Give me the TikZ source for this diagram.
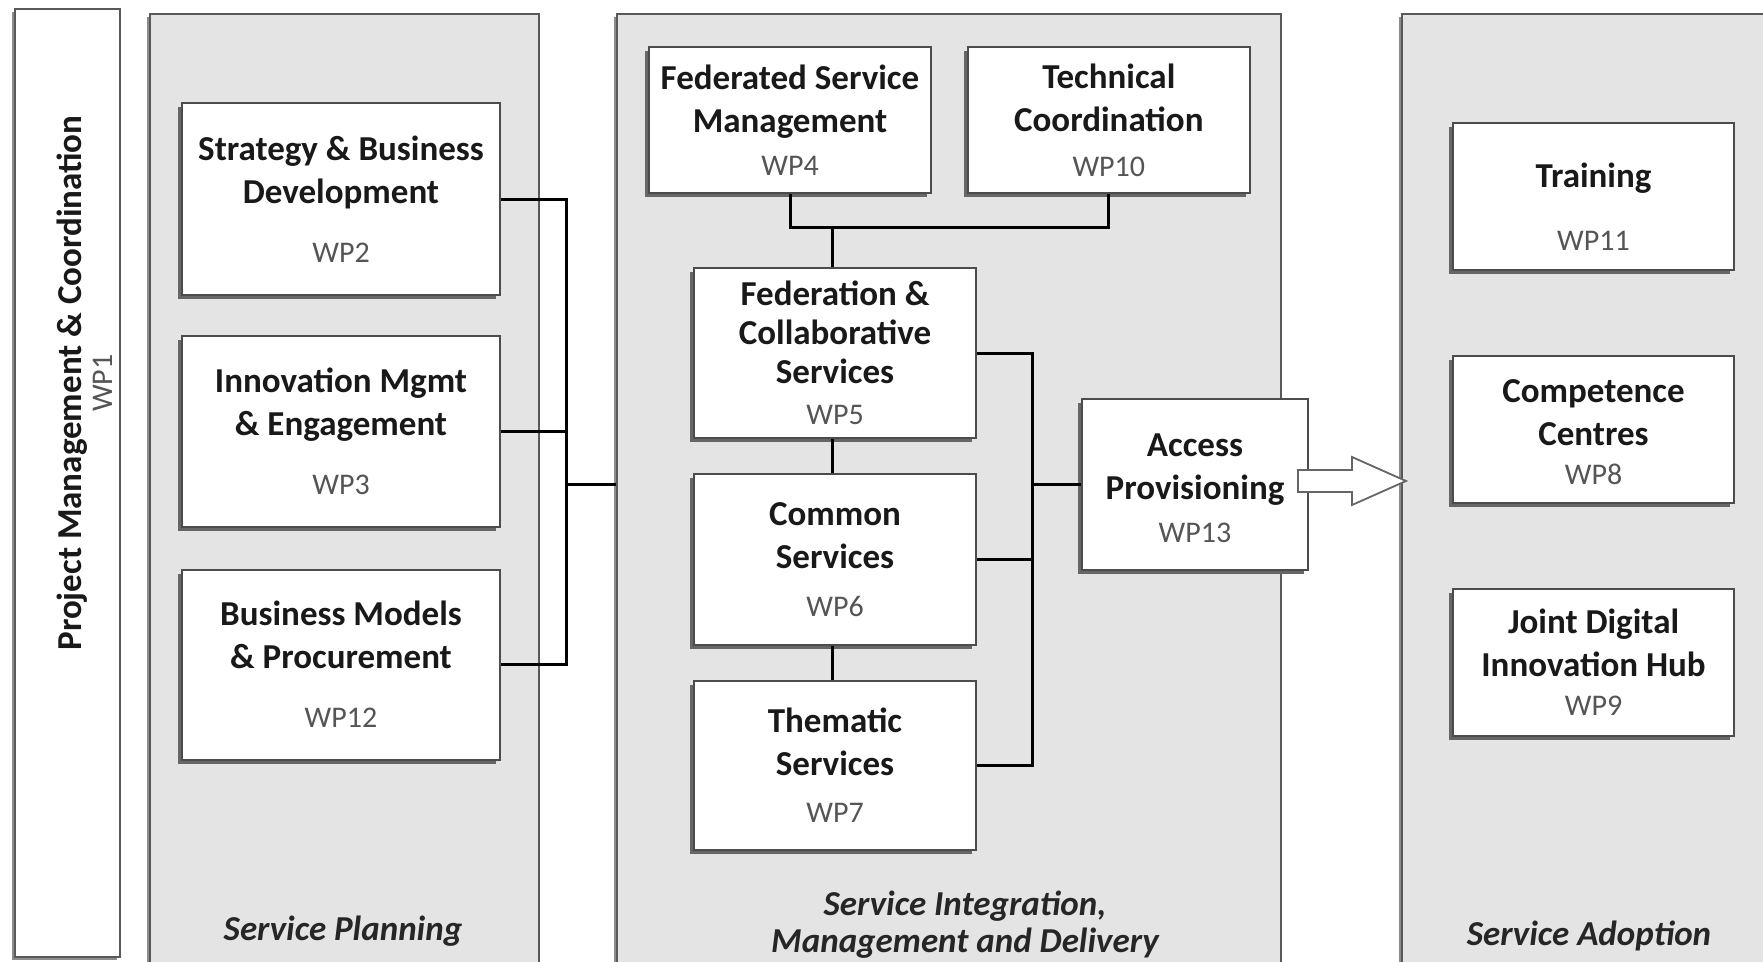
\documentclass[tikz,border=0pt]{standalone}
\usepackage{fontspec}
\setmainfont{Carlito}
\usepackage{tikz}
\usetikzlibrary{positioning,shadows}

\definecolor{panelgray}{HTML}{E4E4E4}
\definecolor{wpgray}{HTML}{555555}
\newcommand{\wpno}[1]{{\fontsize{30}{36}\selectfont\mdseries\color{wpgray}#1}}

\tikzset{
  panel/.style={draw=black!65, line width=2pt, fill=panelgray,
    drop shadow={shadow xshift=-3pt, shadow yshift=-3pt, fill=black!45, opacity=1}},
  sidebox/.style={draw=black!65, line width=2pt, fill=white,
    drop shadow={shadow xshift=-3pt, shadow yshift=-3pt, fill=black!45, opacity=1}},
  wpbox/.style={draw=black!70, line width=1.8pt, fill=white, align=center, inner sep=0pt,
    text=black!90, font=\fontsize{35}{43}\selectfont\bfseries,
    drop shadow={shadow xshift=-4pt, shadow yshift=-4pt, fill=black!60, opacity=1}},
  paneltitle/.style={align=center, text=black!85, font=\fontsize{35}{37}\selectfont\bfseries\itshape},
  link/.style={line width=3pt, black},
  hollow/.style={draw=black!60, line width=1.8pt, fill=white, line join=miter}
}

\begin{document}
\begin{tikzpicture}[x=1pt, y=-1pt]
  % Frame
  \useasboundingbox (0,0) rectangle (1763,961);
  \clip (0,0) rectangle (1763,961);

  % Panels
  \node (wp1) at (67.5,483) [sidebox, minimum width=105pt, minimum height=948pt] {};
  \node (plan) at (344.5,499) [panel, minimum width=389pt, minimum height=971pt] {};
  \node (integ) at (949,499) [panel, minimum width=664pt, minimum height=971pt] {};
  \node (adopt) at (1596,499) [panel, minimum width=388pt, minimum height=971pt] {};

  % Project management
  \node (wp1txt) at (85,383) [rotate=90, align=center, text=black!90,
    font=\fontsize{35}{31}\selectfont\bfseries] {Project Management \& Coordination\\\wpno{WP1}};

  % Service planning
  \node (wp2) at (341,199) [wpbox, minimum width=318pt, minimum height=192pt]
    {Strategy \& Business\\Development\\[16pt]\wpno{WP2}};
  \node (wp3) [wpbox, minimum width=318pt, minimum height=191pt, below=39pt of wp2]
    {Innovation Mgmt\\\& Engagement\\[16pt]\wpno{WP3}};
  \node (wp12) [wpbox, minimum width=318pt, minimum height=190pt, below=41pt of wp3]
    {Business Models\\\& Procurement\\[16pt]\wpno{WP12}};

  % Service integration
  \node (fed) at (790,120) [wpbox, minimum width=282pt, minimum height=146pt]
    {Federated Service\\Management\\\wpno{WP4}};
  \node (tech) [wpbox, minimum width=282pt, minimum height=146pt, right=35pt of fed]
    {Technical\\Coordination\\[2pt]\wpno{WP10}};
  \node (wp5) at (835,353) [wpbox, minimum width=282pt, minimum height=170pt]
    {Federation \&\\[-4pt]Collaborative\\[-4pt]Services\\[-2pt]\wpno{WP5}};
  \node (wp6) [wpbox, minimum width=282pt, minimum height=171pt, below=34pt of wp5]
    {Common\\Services\\[5pt]\wpno{WP6}};
  \node (wp7) [wpbox, minimum width=282pt, minimum height=169pt, below=34pt of wp6]
    {Thematic\\Services\\[4pt]\wpno{WP7}};
  \node (wp13) at (1195,484.5) [wpbox, minimum width=226pt, minimum height=171pt]
    {\rule{0pt}{31pt}Access\\Provisioning\\\wpno{WP13}};

  % Service adoption
  \node (wp11) at (1593.5,196.5) [wpbox, minimum width=281pt, minimum height=147pt]
    {\rule{0pt}{44pt}Training\\[20pt]\wpno{WP11}};
  \node (wp8) [wpbox, minimum width=281pt, minimum height=147pt, below=84pt of wp11]
    {\rule{0pt}{29pt}Competence\\Centres\\[-4pt]\wpno{WP8}};
  \node (wp9) [wpbox, minimum width=281pt, minimum height=147pt, below=84pt of wp8]
    {Joint Digital\\Innovation Hub\\[-4pt]\wpno{WP9}};

  % Panel titles
  \node (plantitle) at (343,931) [paneltitle] {Service Planning};
  \node (integtitle) at (965,925) [paneltitle] {Service Integration,\\Management and Delivery};
  \node (adopttitle) at (1589,935.5) [paneltitle] {Service Adoption};

  % Planning bus
  \coordinate (planbus) at (566,0);
  \draw[link] (wp2.east) -- (wp2.east -| planbus) -- (wp12.east -| planbus) -- (wp12.east);
  \draw[link] (wp3.east) -- (wp3.east -| planbus);
  \draw[link] (planbus |- wp13.west) -- (integ.west |- wp13.west);

  % Integration links
  \coordinate (topjoin) at (832,227);
  \draw[link] (fed.south) |- (topjoin) -| (tech.south);
  \draw[link] (topjoin) -- (topjoin |- wp5.north);
  \draw[link] (wp5.south -| topjoin) -- (wp6.north -| topjoin);
  \draw[link] (wp6.south -| topjoin) -- (wp7.north -| topjoin);
  \coordinate (intbus) at (1032,0);
  \draw[link] (wp5.east) -- (wp5.east -| intbus) -- (wp7.east -| intbus) -- (wp7.east);
  \draw[link] (wp6.east) -- (wp6.east -| intbus);
  \draw[link] (intbus |- wp13.west) -- (wp13.west);

  % Hand-over arrow
  \coordinate (arrowtail) at ([xshift=-11pt, yshift=3.5pt]wp13.east);
  \coordinate (arrowtip) at ([xshift=5pt]adopt.west |- arrowtail);
  \draw[hollow] ([yshift=11pt]arrowtail) -- ([xshift=-54pt, yshift=11pt]arrowtip)
    -- ([xshift=-54pt, yshift=24pt]arrowtip) -- (arrowtip)
    -- ([xshift=-54pt, yshift=-24pt]arrowtip) -- ([xshift=-54pt, yshift=-11pt]arrowtip)
    -- ([yshift=-11pt]arrowtail) -- cycle;
\end{tikzpicture}
\end{document}
